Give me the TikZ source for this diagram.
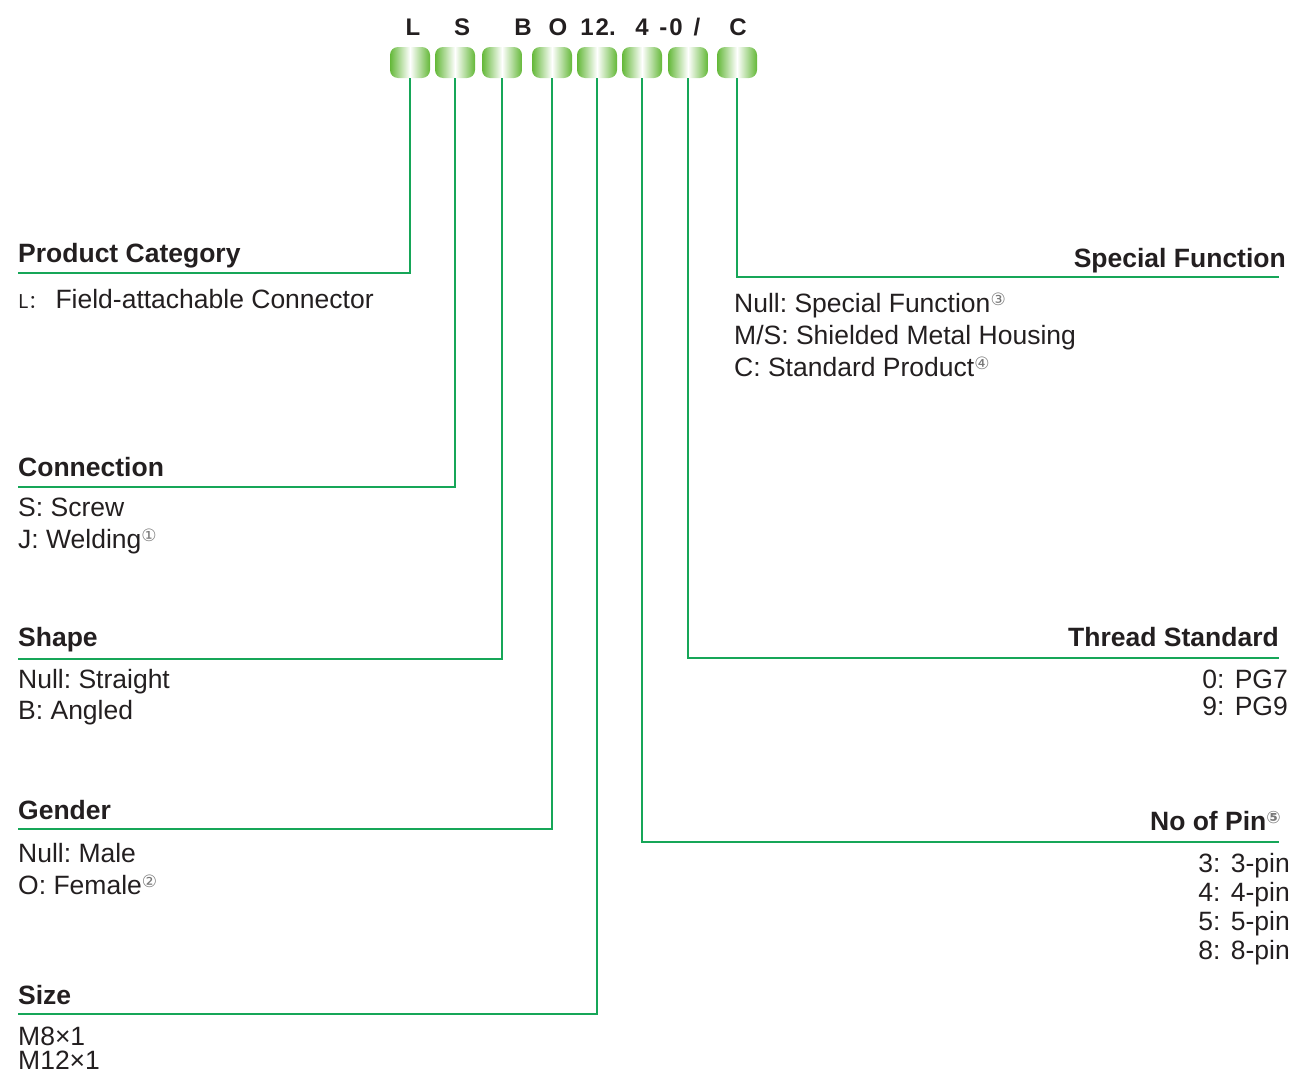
\documentclass[tikz,border=0pt]{standalone}
\usepackage{fontspec}
\setmainfont{Liberation Sans}
\newfontfamily\cjk{Noto Sans CJK SC}
\newfontfamily\symfont{DejaVu Sans}
\usepackage{xcolor}
\usepackage{tikz}
\usetikzlibrary{arrows.meta, positioning}
\definecolor{pnline}{RGB}{22, 166, 88}
\definecolor{pnbox}{RGB}{100, 184, 56}
\definecolor{pntext}{RGB}{35, 31, 32}
\definecolor{pnnote}{RGB}{120, 120, 120}
\newcommand{\circnum}[1]{\raisebox{7pt}{\symfont\fontsize{17}{17}\selectfont\color{pnnote}#1}}
\frenchspacing

\begin{document}
\begin{tikzpicture}[x=1pt, y=-1pt, >=Stealth,
  codebox/.style={rectangle, rounded corners=8pt, minimum width=40pt,
    minimum height=31pt, inner sep=0pt,
    left color=pnbox, right color=pnbox, middle color=white},
  code/.style={font=\fontsize{24}{24}\selectfont\bfseries, text=pntext,
    anchor=base, inner sep=0pt},
  head/.style={font=\fontsize{26.5}{26.5}\selectfont\bfseries, text=pntext,
    inner sep=0pt},
  item/.style={font=\fontsize{26.5}{26.5}\selectfont, text=pntext, inner sep=0pt},
  link/.style={pnline, line width=1.6pt}]

  \useasboundingbox (0,0) rectangle (1293,1074);

  % --- code boxes ---
  \node[codebox] (bL)    at (410,62.5) {};
  \node[codebox] (bS)    at (455,62.5) {};
  \node[codebox] (bB)    at (502,62.5) {};
  \node[codebox] (bO)    at (552,62.5) {};
  \node[codebox] (bSize) at (597,62.5) {};
  \node[codebox] (bPin)  at (642,62.5) {};
  \node[codebox] (bThr)  at (688,62.5) {};
  \node[codebox] (bC)    at (737,62.5) {};

  % --- code letters ---
  \node[code] (cL)    at (413,35) {L};
  \node[code] (cS)    at (462,35) {S};
  \node[code] (cB)    at (523,35) {B};
  \node[code] (cO)    at (558,35) {O};
  \node[code] (cSize) at (598,35) {1\hspace{2pt}2.};
  \node[code] (cPin)  at (642,35) {4};
  \node[code] (cThr)  at (671,35) {-\hspace{2pt}0};
  \node[code] (cSl)   at (697,35) {/};
  \node[code] (cC)    at (738,35) {C};

  % --- product category ---
  \coordinate (eL) at (18,273);
  \draw[link] (bL.south) |- (eL);
  \node[head, anchor=base west] (hL) at (18,262) {Product Category};
  \node[item, anchor=base west] (iL) at (18,308)
    {{\cjk\fontsize{19}{19}\selectfont L：}\hspace{8pt}Field-attachable Connector};

  % --- connection ---
  \coordinate (eS) at (18,487);
  \draw[link] (bS.south) |- (eS);
  \node[head, anchor=base west] (hS) at (18,476) {Connection};
  \foreach \t [count=\i] in {{S: Screw},{J: Welding\circnum{①}}}
    \node[item, anchor=base west] (iS\i) at (18,484+32*\i) {\t};

  % --- shape ---
  \coordinate (eB) at (18,659);
  \draw[link] (bB.south) |- (eB);
  \node[head, anchor=base west] (hB) at (18,646) {Shape};
  \foreach \t [count=\i] in {{Null: Straight},{B: Angled}}
    \node[item, anchor=base west] (iB\i) at (18,657+31*\i) {\t};

  % --- gender ---
  \coordinate (eO) at (18,829);
  \draw[link] (bO.south) |- (eO);
  \node[head, anchor=base west] (hO) at (18,819) {Gender};
  \foreach \t [count=\i] in {{Null: Male},{O: Female\circnum{②}}}
    \node[item, anchor=base west] (iO\i) at (18,830+32*\i) {\t};

  % --- size ---
  \coordinate (eSize) at (18,1014);
  \draw[link] (bSize.south) |- (eSize);
  \node[head, anchor=base west] (hSize) at (18,1004) {Size};
  \foreach \t [count=\i] in {{M8×1},{M12×1}}
    \node[item, anchor=base west] (iSize\i) at (18,1021+24*\i) {\t};

  % --- special function ---
  \coordinate (eC) at (1279,277);
  \draw[link] (bC.south) |- (eC);
  \node[head, anchor=base east] (hC) at (1286,267) {Special Function};
  \foreach \t [count=\i] in {{Null: Special Function\circnum{③}},
      {M/S: Shielded Metal Housing},{C: Standard Product\circnum{④}}}
    \node[item, anchor=base west] (iC\i) at (734,280+32*\i) {\t};

  % --- thread standard ---
  \coordinate (eThr) at (1279,658);
  \draw[link] (bThr.south) |- (eThr);
  \node[head, anchor=base east] (hThr) at (1279,646) {Thread Standard};
  \foreach \t [count=\i] in {{0:\hspace{3pt} PG7},{9:\hspace{3pt} PG9}}
    \node[item, anchor=base east] (iThr\i) at (1288,661+27*\i) {\t};

  % --- number of pins ---
  \coordinate (ePin) at (1279,842);
  \draw[link] (bPin.south) |- (ePin);
  \node[head, anchor=base east] (hPin) at (1281,830) {No of Pin\circnum{⑤}};
  \foreach \t [count=\i] in {{3:\hspace{3pt} 3-pin},{4:\hspace{3pt} 4-pin},
      {5:\hspace{3pt} 5-pin},{8:\hspace{3pt} 8-pin}}
    \node[item, anchor=base east] (iPin\i) at (1290,843+29*\i) {\t};

\end{tikzpicture}
\end{document}
